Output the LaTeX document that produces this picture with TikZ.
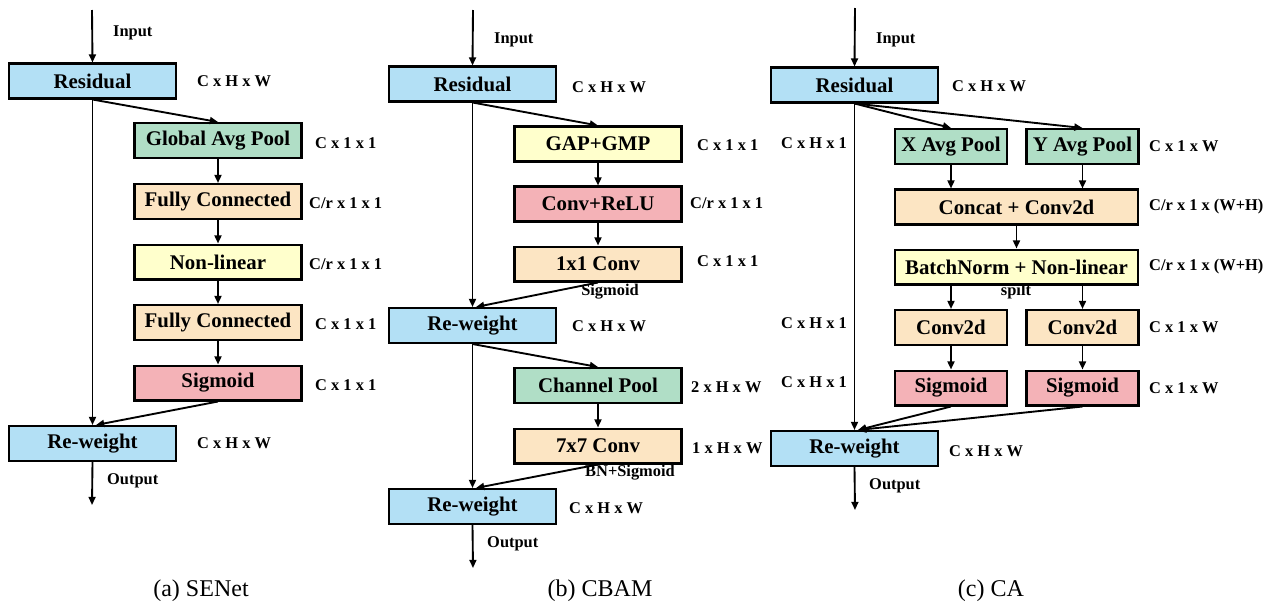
\documentclass[tikz,border=0pt]{standalone}
\usepackage{fontspec}
\setmainfont{Liberation Serif}
\usepackage{xcolor}
\usepackage{tikz}
\usetikzlibrary{calc,arrows.meta}

\definecolor{resblue}{HTML}{B3E0F5}
\definecolor{poolgreen}{HTML}{B0DEC6}
\definecolor{convpeach}{HTML}{FCE5C3}
\definecolor{actyellow}{HTML}{FFFFCC}
\definecolor{sigpink}{HTML}{F4B2B7}

\tikzset{
    blk/.style={draw, line width=2pt, minimum width=5.01cm, minimum height=1.04cm,
        inner sep=0pt, font=\fontsize{17.8}{20}\selectfont\bfseries},
    narrow/.style={minimum width=3.36cm},
    wide/.style={minimum width=7.29cm},
    dimlbl/.style={anchor=west, inner sep=0pt, font=\fontsize{14}{16}\selectfont\bfseries},
    note/.style={inner sep=0pt, font=\fontsize{14}{16}\selectfont\bfseries},
    caption/.style={inner sep=0pt, font=\fontsize{20.5}{24}\selectfont},
    flow/.style={-{Triangle[length=7pt,width=6pt]}, line width=1.6pt},
}

\begin{document}
\begin{tikzpicture}[x=0.03cm, y=-0.03cm]
    \useasboundingbox (0,0) rectangle (1278,608);

    % SENet
    \begin{scope}
        \coordinate (inA) at (92,10);
        \coordinate (outA) at (92,505);
        \node[blk, fill=resblue] (resA) at (92.5,81) {Residual};
        \node[blk, fill=poolgreen] (gapA) at (218,140.5) {Global Avg Pool};
        \node[blk, fill=convpeach] (fcA) at (218,201.5) {Fully Connected};
        \node[blk, fill=actyellow] (nlA) at (218,262) {Non-linear};
        \node[blk, fill=convpeach] (fcB) at (218,322.5) {Fully Connected};
        \node[blk, fill=sigpink] (sigA) at (218,383) {Sigmoid};
        \node[blk, fill=resblue] (rwA) at (92.5,443.5) {Re-weight};

        \node[dimlbl] at (197,81) {C x H x W};
        \node[dimlbl] at (315,143) {C x 1 x 1};
        \node[dimlbl] at (309,203) {C/r x 1 x 1};
        \node[dimlbl] at (309,264) {C/r x 1 x 1};
        \node[dimlbl] at (315,324) {C x 1 x 1};
        \node[dimlbl] at (315,385) {C x 1 x 1};
        \node[dimlbl] at (197,443) {C x H x W};
        \node[dimlbl] at (113,33) {Input};
        \node[dimlbl] at (107,481) {Output};

        \draw[flow] (inA) -- (resA.north);
        \draw[flow] (resA.south) -- (gapA.north);
        \draw[flow] (gapA) -- (fcA);
        \draw[flow] (fcA) -- (nlA);
        \draw[flow] (nlA) -- (fcB);
        \draw[flow] (fcB) -- (sigA);
        \draw[flow] (resA.south) -- (rwA.north);
        \draw[flow] (sigA.south) -- ([xshift=3]rwA.north);
        \draw[flow] (rwA.south) -- (outA);

        \node[caption] at (201,591) {(a) SENet};
    \end{scope}

    % CBAM
    \begin{scope}
        \coordinate (inB) at (473,10);
        \coordinate (outB) at (473,568);
        \node[blk, fill=resblue] (resB) at (472.5,84) {Residual};
        \node[blk, fill=actyellow] (gapB) at (598,144) {GAP+GMP};
        \node[blk, fill=sigpink] (crB) at (598,204) {Conv+ReLU};
        \node[blk, fill=convpeach] (cvB) at (598,264) {1x1 Conv};
        \node[blk, fill=resblue] (rwB) at (472.5,325.5) {Re-weight};
        \node[blk, fill=poolgreen] (cpB) at (598,385.5) {Channel Pool};
        \node[blk, fill=convpeach] (svB) at (598,446) {7x7 Conv};
        \node[blk, fill=resblue] (rwC) at (472.5,506.5) {Re-weight};

        \node[dimlbl] at (572,87) {C x H x W};
        \node[dimlbl] at (697,145) {C x 1 x 1};
        \node[dimlbl] at (690,203) {C/r x 1 x 1};
        \node[dimlbl] at (697,261) {C x 1 x 1};
        \node[dimlbl] at (572,326) {C x H x W};
        \node[dimlbl] at (691,387) {2 x H x W};
        \node[dimlbl] at (692,448) {1 x H x W};
        \node[dimlbl] at (569,508) {C x H x W};
        \node[dimlbl] at (494,40) {Input};
        \node[dimlbl] at (487,544) {Output};
        \node[note] at (610,292) {Sigmoid};
        \node[note] at (630,473) {BN+Sigmoid};

        \draw[flow] (inB) -- (resB.north);
        \draw[flow] (resB.south) -- (gapB.north);
        \draw[flow] (gapB) -- (crB);
        \draw[flow] (crB) -- (cvB);
        \draw[flow] (resB.south) -- (rwB.north);
        \draw[flow] (cvB.south) -- ([xshift=3]rwB.north);
        \draw[flow] (rwB.south) -- (cpB.north);
        \draw[flow] (cpB) -- (svB);
        \draw[flow] (rwB.south) -- (rwC.north);
        \draw[flow] (svB.south) -- ([xshift=3]rwC.north);
        \draw[flow] (rwC.south) -- (outB);

        \node[caption] at (600,591) {(b) CBAM};
    \end{scope}

    % CA
    \begin{scope}
        \coordinate (inC) at (855,8);
        \coordinate (outC) at (855,510);
        \node[blk, fill=resblue] (resC) at (854.5,85) {Residual};
        \node[blk, narrow, fill=poolgreen] (xpC) at (951,146.5) {X Avg Pool};
        \node[blk, narrow, fill=poolgreen] (ypC) at (1082.5,146.5) {Y Avg Pool};
        \node[blk, wide, fill=convpeach] (ccC) at (1016.5,207) {Concat + Conv2d};
        \node[blk, wide, fill=actyellow] (bnC) at (1016.5,267) {BatchNorm + Non-linear};
        \node[blk, narrow, fill=convpeach] (xcC) at (951,327.5) {Conv2d};
        \node[blk, narrow, fill=convpeach] (ycC) at (1082.5,327.5) {Conv2d};
        \node[blk, narrow, fill=sigpink] (xsC) at (951,388) {Sigmoid};
        \node[blk, narrow, fill=sigpink] (ysC) at (1082.5,388) {Sigmoid};
        \node[blk, fill=resblue] (rwD) at (854.5,448.5) {Re-weight};

        \node[dimlbl] at (952,86) {C x H x W};
        \node[dimlbl] at (781,143) {C x H x 1};
        \node[dimlbl] at (1149,146) {C x 1 x W};
        \node[dimlbl] at (1149,207) {C/r x 1 x (W+H)};
        \node[dimlbl] at (1149,267) {C/r x 1 x (W+H)};
        \node[dimlbl] at (781,323) {C x H x 1};
        \node[dimlbl] at (1149,327) {C x 1 x W};
        \node[dimlbl] at (781,382) {C x H x 1};
        \node[dimlbl] at (1149,388) {C x 1 x W};
        \node[dimlbl] at (949,451) {C x H x W};
        \node[dimlbl] at (876,40) {Input};
        \node[dimlbl] at (869,486) {Output};
        \node[note] at (1016,292) {spilt};

        \draw[flow] (inC) -- (resC.north);
        \draw[flow] (resC.south) -- (xpC.north);
        \draw[flow] (resC.south) -- (ypC.north);
        \draw[flow] (xpC.south) -- (xpC.south |- ccC.north);
        \draw[flow] (ypC.south) -- (ypC.south |- ccC.north);
        \draw[flow] (ccC) -- (bnC);
        \draw[flow] (bnC.south -| xcC.north) -- (xcC.north);
        \draw[flow] (bnC.south -| ycC.north) -- (ycC.north);
        \draw[flow] (xcC) -- (xsC);
        \draw[flow] (ycC) -- (ysC);
        \draw[flow] (resC.south) -- (rwD.north);
        \draw[flow] (xsC.south) -- ([xshift=3]rwD.north);
        \draw[flow] (ysC.south) -- ([xshift=3]rwD.north);
        \draw[flow] (rwD.south) -- (outC);

        \node[caption] at (991,591) {(c) CA};
    \end{scope}
\end{tikzpicture}
\end{document}
